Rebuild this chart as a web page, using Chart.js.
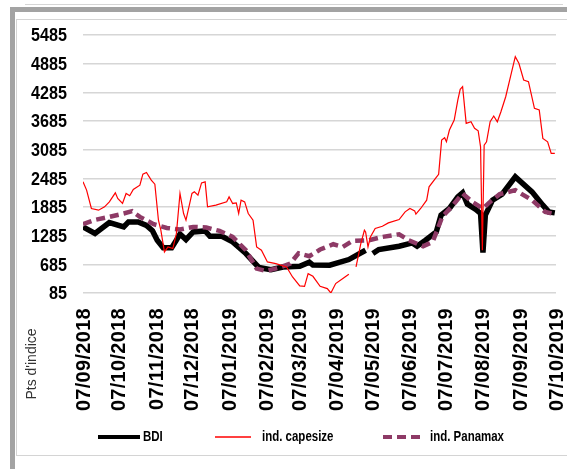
<!DOCTYPE html>
<html>
<head>
<meta charset="utf-8">
<script src="https://cdn.jsdelivr.net/npm/chart.js@4.4.1/dist/chart.umd.min.js"></script>
<style>
    body { margin: 0; background: #fff; }
    .wrap { position: relative; width: 567px; height: 469px; overflow: hidden; }
    .bar-left { position: absolute; left: 10px; top: 8px; width: 5px; height: 461px; background: #a3a3a3; }
    .bar-top { position: absolute; left: 10px; top: 7px; width: 557px; height: 5px; background: #a3a3a3; }
    .line-top { position: absolute; left: 25px; top: 4px; width: 538px; height: 1px; background: #d6d6d6; }
    .inner { position: absolute; left: 16px; top: 19px; width: 560px; height: 435px; border: 1px solid #d4d4d4; }
    canvas { position: absolute; left: 0; top: 0; }
</style>
</head>
<body>
<div class="wrap">
    <div class="line-top"></div>
    <div class="bar-top"></div>
    <div class="bar-left"></div>
    <div class="inner"></div>
    <canvas id="bdiChart" width="567" height="469"></canvas>
</div>
<script>
// x = days since 07/09/2018
const xTickDays = [0, 30, 61, 91, 122, 153, 181, 212, 242, 273, 303, 334, 365, 395];
const xTickLabels = ['07/09/2018', '07/10/2018', '07/11/2018', '07/12/2018', '07/01/2019', '07/02/2019',
    '07/03/2019', '07/04/2019', '07/05/2019', '07/06/2019', '07/07/2019', '07/08/2019', '07/09/2019', '07/10/2019'];
const yTickValues = [85, 685, 1285, 1885, 2485, 3085, 3685, 4285, 4885, 5485];

// BDI
const bdiDays = [0, 10, 22, 34, 38, 46, 53, 58, 62, 67, 74, 78, 81, 86, 92, 102, 106, 116, 125, 136, 147, 157, 167,
    181, 189, 192, 206, 222, 236, 238, 242, 247, 264, 275, 279, 286, 295, 299, 306, 313, 317, 321, 328, 332, 334,
    336, 342, 350, 361, 375, 384, 389, 394];
const bdiValues = [1468, 1330, 1560, 1468, 1573, 1573, 1500, 1390, 1190, 1030, 1030, 1190, 1320, 1204, 1363, 1384,
    1273, 1273, 1154, 911, 617, 575, 630, 645, 730, 670, 666, 785, 980, null, 911, 995, 1064, 1133, 1064, 1190,
    1363, 1714, 1854, 2097, 2181, 1944, 1833, 1749, 930, 1714, 2028, 2154, 2516, 2202, 1923, 1783, 1762];

// ind. capesize
const capeDays = [0, 3, 7, 13, 18, 22, 27, 29, 33, 36, 39, 42, 47.5, 50, 53, 57, 60, 63, 65, 68, 71, 75, 78, 81, 84,
    86, 91, 93, 96, 99, 102, 104, 111, 120, 122, 125, 128, 130, 132, 135, 138, 142, 145, 149, 154, 161, 170, 175,
    181, 185, 188, 192, 198, 204, 207, 211, 217, 222, 225, 228, 232, 235, 236, 238, 240, 244, 250, 255, 264, 269,
    273, 277, 278, 282, 287, 289, 295, 297, 299.5, 302, 303.5, 306, 310, 313, 315, 317, 320, 324, 327, 330, 332,
    333.5, 335, 337, 340, 343, 346, 349, 353, 357, 361, 364, 368, 372, 377, 381, 384, 388, 391, 394];
const capeValues = [2412, 2238, 1854, 1818, 1888, 1993, 2181, 2064, 1959, 2168, 2120, 2252, 2342, 2573, 2608, 2447,
    2363, 1609, 1399, 944, 1050, 1016, 1330, 2168, 1749, 1609, 2168, 2202, 2133, 2390, 2412, 1888, 1923, 1993, 2097,
    1959, 1972, 1749, 2028, 1993, 1749, 1609, 1050, 980, 735, 701, 630, 420, 235, 225, 491, 435, 225, 177, 85, 282,
    387, 477, null, 630, 1120, 1399, 1363, 1050, 1259, 1435, 1483, 1552, 1623, 1783, 1854, 1804, 1735, 1854, 2028,
    2307, 2504, 2570, 3286, 3334, 3250, 3495, 3705, 4124, 4348, 4403, 3635, 3669, 3531, 3481, 3145, 980, 3181, 3250,
    3669, 3789, 3669, 3879, 4193, 4612, 5032, 4893, 4543, 4508, 3950, 3915, 3321, 3250, 3007, 3007];

// ind. Panamax
const panaDays = [0, 9, 22, 34, 41, 47.5, 59, 70, 81, 92, 103, 114, 125, 136, 145, 153, 164, 173, 180, 189, 198, 209,
    217, 225, 239, 250, 264, 272, 284, 292, 300, 309, 317, 325, 334, 339, 348, 361, 375, 386, 394];
const panaValues = [1525, 1609, 1678, 1749, 1797, 1678, 1525, 1447, 1414, 1468, 1456, 1384, 1259, 980, 596, 546, 617,
    701, 915, 854, 995, 1106, 1050, 1175, 1190, 1259, 1315, 1190, 1064, 1154, 1678, 1923, 2168, 1993, 1854, 1972,
    2154, 2238, 2028, 1783, 1735];

const seriesNames = ['BDI', 'ind. capesize', 'ind. Panamax'];
const colors = { bdi: '#000000', cape: '#ff0000', pana: '#8e3a66' };
const boldFont = "'Liberation Sans', Arial, sans-serif";

function toPoints(days, values) {
    return days.map((d, i) => ({ x: d, y: values[i] }));
}

// narrow text: squeeze horizontally
function narrowText(ctx, text, x, y, squeeze) {
    ctx.save();
    ctx.translate(x, y);
    ctx.scale(squeeze, 1);
    ctx.fillText(text, 0, 0);
    ctx.restore();
}

// Custom drawing: tick labels, axis title and legend
const extrasPlugin = {
    id: 'extras',
    afterDraw(chart) {
        const ctx = chart.ctx;
        const xScale = chart.scales.x;
        const yScale = chart.scales.y;
        const bottom = chart.chartArea.bottom;

        // y tick labels
        ctx.save();
        ctx.fillStyle = '#000';
        ctx.font = 'bold 19px ' + boldFont;
        ctx.textAlign = 'right';
        ctx.textBaseline = 'middle';
        yTickValues.forEach(v => {
            narrowText(ctx, String(v), 67, yScale.getPixelForValue(v) + 1, 0.85);
        });
        ctx.restore();

        // rotated date labels
        ctx.save();
        ctx.fillStyle = '#000';
        ctx.font = 'bold 20px ' + boldFont;
        ctx.letterSpacing = '0.3px';
        ctx.textAlign = 'right';
        ctx.textBaseline = 'middle';
        xTickDays.forEach((d, i) => {
            const x = xScale.getPixelForValue(d) + 1;
            ctx.save();
            ctx.translate(x, bottom + 15);
            ctx.rotate(-Math.PI / 2);
            ctx.fillText(xTickLabels[i], 0, 0);
            ctx.restore();
        });
        ctx.restore();

        // y axis title
        ctx.save();
        ctx.fillStyle = '#333';
        ctx.font = "14px 'Liberation Sans', Arial, sans-serif";
        ctx.textAlign = 'center';
        ctx.textBaseline = 'middle';
        ctx.translate(32, 364);
        ctx.rotate(-Math.PI / 2);
        ctx.fillText("Pts d'indice", 0, 0);
        ctx.restore();

        // legend
        const ly = 437;
        ctx.save();
        ctx.font = 'bold 14px ' + boldFont;
        ctx.fillStyle = '#000';
        ctx.textBaseline = 'middle';
        ctx.textAlign = 'left';

        ctx.strokeStyle = colors.bdi;
        ctx.lineWidth = 4;
        ctx.beginPath(); ctx.moveTo(98, ly); ctx.lineTo(140, ly); ctx.stroke();
        narrowText(ctx, seriesNames[0], 143, ly, 0.82);

        ctx.strokeStyle = colors.cape;
        ctx.lineWidth = 1.5;
        ctx.beginPath(); ctx.moveTo(215, ly); ctx.lineTo(251, ly); ctx.stroke();
        narrowText(ctx, seriesNames[1], 262, ly, 0.82);

        ctx.strokeStyle = colors.pana;
        ctx.lineWidth = 4;
        ctx.setLineDash([9, 5]);
        ctx.beginPath(); ctx.moveTo(383, ly); ctx.lineTo(424, ly); ctx.stroke();
        ctx.setLineDash([]);
        narrowText(ctx, seriesNames[2], 430, ly, 0.82);
        ctx.restore();
    }
};

const ctx = document.getElementById('bdiChart').getContext('2d');
new Chart(ctx, {
    type: 'line',
    data: {
        datasets: [{
            label: seriesNames[1],
            data: toPoints(capeDays, capeValues),
            borderColor: colors.cape,
            borderWidth: 1.2,
            pointRadius: 0,
            spanGaps: false
        }, {
            label: seriesNames[2],
            data: toPoints(panaDays, panaValues),
            borderColor: colors.pana,
            borderWidth: 4.5,
            borderDash: [9, 5],
            pointRadius: 0
        }, {
            label: seriesNames[0],
            data: toPoints(bdiDays, bdiValues),
            borderColor: colors.bdi,
            borderWidth: 5.5,
            pointRadius: 0,
            spanGaps: false
        }]
    },
    options: {
        responsive: false,
        animation: false,
        layout: {
            padding: { left: 0, right: 11, top: 35, bottom: 0 }
        },
        plugins: {
            legend: { display: false },
            tooltip: { enabled: false }
        },
        scales: {
            x: {
                type: 'linear',
                min: 0,
                max: 395,
                grid: { display: false },
                border: { display: false },
                ticks: { display: false },
                afterFit: (scale) => { scale.height = 176; }
            },
            y: {
                min: 85,
                max: 5485,
                afterBuildTicks: (scale) => {
                    scale.ticks = yTickValues.map(v => ({ value: v }));
                },
                afterFit: (scale) => { scale.width = 83; },
                grid: {
                    color: '#d6d6d6',
                    lineWidth: 1.4,
                    drawTicks: false
                },
                border: { display: false },
                ticks: { display: false }
            }
        }
    },
    plugins: [extrasPlugin]
});
</script>
</body>
</html>
